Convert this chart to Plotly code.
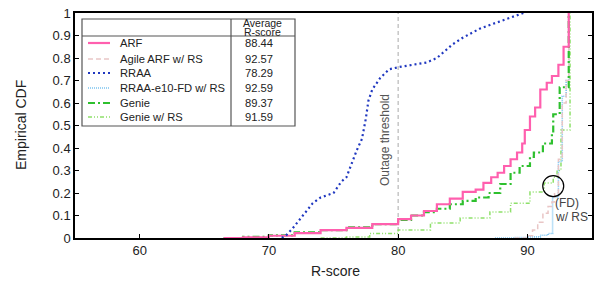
import plotly.graph_objects as go

# ---------------- data ----------------
arf_x = [66.5, 68, 70, 72, 74, 76, 78, 80, 81, 82, 83, 84, 85, 86, 86.6, 87.2, 87.7, 88.2,
         88.7, 89.2, 89.6, 89.8, 90.2, 90.6, 91.0, 91.5, 91.9, 92.4, 92.8, 93.2, 93.2]
arf_y = [0, 0.003, 0.01, 0.022, 0.035, 0.045, 0.062, 0.084, 0.1, 0.12, 0.15, 0.175, 0.205,
         0.215, 0.245, 0.27, 0.29, 0.32, 0.35, 0.38, 0.42, 0.48, 0.54, 0.58, 0.66, 0.69,
         0.72, 0.77, 0.85, 0.85, 1.0]

agile_x = [89, 90, 90.4, 90.8, 91.2, 91.6, 91.9, 92.1, 92.4, 92.7, 93.0, 93.2, 93.2]
agile_y = [0, 0.01, 0.036, 0.07, 0.11, 0.14, 0.16, 0.2, 0.35, 0.6, 0.7, 0.7, 1.0]

rraa_x = [71.0, 71.3, 71.8, 72.6, 73.4, 74.0, 74.5, 75.0, 75.6, 76.0, 76.4, 76.8, 77.2,
          77.5, 77.7, 78.0, 78.6, 79.3, 80.1, 81.0, 82.2, 83.0, 83.6, 84.2, 85.0, 85.6,
          86.3, 87.1, 88.0, 88.7, 89.2, 89.7]
rraa_y = [0.0, 0.01, 0.04, 0.10, 0.155, 0.18, 0.19, 0.2, 0.25, 0.27, 0.33, 0.39, 0.44,
          0.53, 0.61, 0.66, 0.71, 0.75, 0.76, 0.77, 0.78, 0.80, 0.83, 0.86, 0.89, 0.91,
          0.93, 0.947, 0.965, 0.978, 0.99, 1.0]

rraafd_x = [87.5, 89, 90, 91, 91.6, 91.95, 92.4, 92.7, 93.0, 93.2, 93.2]
rraafd_y = [0, 0.002, 0.005, 0.012, 0.02, 0.18, 0.34, 0.63, 0.7, 0.7, 1.0]

genie_x = [66.5, 68, 70, 72, 74, 76, 78, 80, 81, 82, 83, 84, 85, 86, 87, 87.9, 88.7, 89.4,
           90.2, 90.5, 91.2, 91.9, 92.0, 92.5, 93.2, 93.2]
genie_y = [0, 0.005, 0.012, 0.025, 0.035, 0.047, 0.062, 0.08, 0.1, 0.115, 0.13, 0.15,
           0.165, 0.18, 0.2, 0.24, 0.29, 0.32, 0.36, 0.38, 0.42, 0.465, 0.55, 0.67, 0.80, 1.0]

genrs_x = [74, 76, 77.8, 80, 82.5, 84.8, 87.1, 88.7, 90.2, 91.3, 92.0, 92.3, 92.6, 93.3, 93.3]
genrs_y = [0, 0.005, 0.02, 0.036, 0.067, 0.089, 0.116, 0.155, 0.204, 0.244, 0.27, 0.30,
           0.48, 0.5, 1.0]

series_names = ["ARF", "Agile ARF w/ RS", "RRAA", "RRAA-e10-FD w/ RS", "Genie", "Genie w/ RS"]
avg_scores = ["88.44", "92.57", "78.29", "92.59", "89.37", "91.59"]
outage_threshold = 80
x_ticks = [60, 70, 80, 90]
y_ticks = [0, 0.1, 0.2, 0.3, 0.4, 0.5, 0.6, 0.7, 0.8, 0.9, 1]
y_tick_labels = ["0", "0.1", "0.2", "0.3", "0.4", "0.5", "0.6", "0.7", "0.8", "0.9", "1"]

# ---------------- styles ----------------
colors = ["#ff5fae", "#e9c6c6", "#2038c0", "#7cc4f0", "#2ec02e", "#8ee06a"]
dashes = ["solid", "5px,3px", "2px,3px", "1px,1px", "7px,3px,2px,3px", "4px,2px,1px,2px,1px,2px"]
widths = [2.2, 1.5, 2.2, 1.6, 2.2, 1.5]
shapes_line = ["hv", "hv", "linear", "hv", "hv", "hv"]

W, H = 603, 281
L, R, T, B = 75, 11, 13, 43
PW, PH = W - L - R, H - T - B

def px(xp):
    return (xp - L) / PW

def py(yp):
    return (H - B - yp) / PH

FONT = "Liberation Sans, Arial, sans-serif"
TXT = "#222222"
LEG_FS = 11.2

fig = go.Figure()
data = [(arf_x, arf_y), (agile_x, agile_y), (rraa_x, rraa_y),
        (rraafd_x, rraafd_y), (genie_x, genie_y), (genrs_x, genrs_y)]
order = [5, 3, 1, 4, 0, 2]
for i in order:
    xs, ys = data[i]
    fig.add_trace(go.Scatter(x=xs, y=ys, mode="lines", name=series_names[i],
                             line=dict(color=colors[i], width=widths[i], dash=dashes[i],
                                       shape=shapes_line[i]),
                             showlegend=False, hoverinfo="skip"))

shapes = []
annotations = []

# axis titles
annotations.append(dict(x=px(335), y=py(271), xref="paper", yref="paper", text="R-score",
                        showarrow=False, xanchor="center", yanchor="middle",
                        font=dict(family=FONT, size=14, color=TXT)))
annotations.append(dict(x=px(21), y=py(125), xref="paper", yref="paper", text="Empirical CDF",
                        textangle=-90, showarrow=False, xanchor="center", yanchor="middle",
                        font=dict(family=FONT, size=14, color=TXT)))

# outage threshold
shapes.append(dict(type="line", xref="x", yref="paper", x0=outage_threshold, x1=outage_threshold,
                   y0=0, y1=1, line=dict(color="#aaaaaa", width=1, dash="4px,3px"), layer="below"))
annotations.append(dict(x=outage_threshold, y=0.436, xref="x", yref="y", text="Outage threshold",
                        textangle=-90, showarrow=False, xanchor="right", yanchor="middle", xshift=-4,
                        font=dict(family=FONT, size=12, color="#555555")))

# circle + (FD) w/ RS
shapes.append(dict(type="circle", xref="x", yref="y", xsizemode="pixel", ysizemode="pixel",
                   xanchor=92.0, yanchor=0.231, x0=-10.5, x1=10.5, y0=-10.5, y1=10.5,
                   line=dict(color="black", width=1.2)))
annotations.append(dict(x=91.95, y=0.155, xref="x", yref="y", text="(FD)", showarrow=False,
                        xanchor="left", yanchor="middle",
                        font=dict(family=FONT, size=12, color="#444444")))
annotations.append(dict(x=91.95, y=0.093, xref="x", yref="y", text="w/ RS", showarrow=False,
                        xanchor="left", yanchor="middle",
                        font=dict(family=FONT, size=12, color="#444444")))

# legend table
bx0, bx1, by0, by1 = 82, 295, 19, 126
shapes.append(dict(type="rect", xref="paper", yref="paper", x0=px(bx0), x1=px(bx1),
                   y0=py(by1), y1=py(by0), line=dict(color="#555555", width=1.2),
                   fillcolor="white", layer="above"))
shapes.append(dict(type="line", xref="paper", yref="paper", x0=px(bx0), x1=px(bx1),
                   y0=py(36), y1=py(36), line=dict(color="#555555", width=1.2)))
shapes.append(dict(type="line", xref="paper", yref="paper", x0=px(231), x1=px(231),
                   y0=py(by1), y1=py(by0), line=dict(color="#555555", width=1.2)))
annotations.append(dict(x=px(262), y=py(23.5), xref="paper", yref="paper", text="Average",
                        showarrow=False, xanchor="center", yanchor="middle",
                        font=dict(family=FONT, size=10.5, color=TXT)))
annotations.append(dict(x=px(262), y=py(32), xref="paper", yref="paper", text="R-score",
                        showarrow=False, xanchor="center", yanchor="middle",
                        font=dict(family=FONT, size=10.5, color=TXT)))
row_y = [43, 59, 73, 88, 103, 117]
for i in range(6):
    shapes.append(dict(type="line", xref="paper", yref="paper", x0=px(88), x1=px(110),
                       y0=py(row_y[i]), y1=py(row_y[i]),
                       line=dict(color=colors[i], width=widths[i], dash=dashes[i])))
    annotations.append(dict(x=px(118), y=py(row_y[i]), xref="paper", yref="paper",
                            text=series_names[i], showarrow=False, xanchor="left",
                            yanchor="middle", font=dict(family=FONT, size=LEG_FS, color=TXT)))
    annotations.append(dict(x=px(243), y=py(row_y[i]), xref="paper", yref="paper",
                            text=avg_scores[i], showarrow=False, xanchor="left",
                            yanchor="middle", font=dict(family=FONT, size=LEG_FS, color=TXT)))

fig.update_layout(
    width=W, height=H,
    margin=dict(l=L, r=R, t=T, b=B, pad=0, autoexpand=False),
    paper_bgcolor="white", plot_bgcolor="white",
    shapes=shapes, annotations=annotations,
    font=dict(family=FONT, size=13, color=TXT),
    xaxis=dict(range=[55, 95], tickvals=x_ticks, ticks="inside", ticklen=4,
               tickcolor="black", showline=True, linecolor="black", linewidth=1.5,
               mirror=True, showgrid=False, zeroline=False, automargin=False,
               tickfont=dict(family=FONT, size=13, color=TXT)),
    yaxis=dict(range=[0, 1], tickvals=y_ticks, ticktext=y_tick_labels, ticks="inside",
               ticklen=4, tickcolor="black", showline=True, linecolor="black", linewidth=1.5,
               mirror="ticks", showgrid=False, zeroline=False, automargin=False,
               tickfont=dict(family=FONT, size=13, color=TXT)),
)

fig.write_html("out.html", config={"displayModeBar": False},
               post_script="document.body.style.margin='0';document.body.style.overflow='hidden';")
